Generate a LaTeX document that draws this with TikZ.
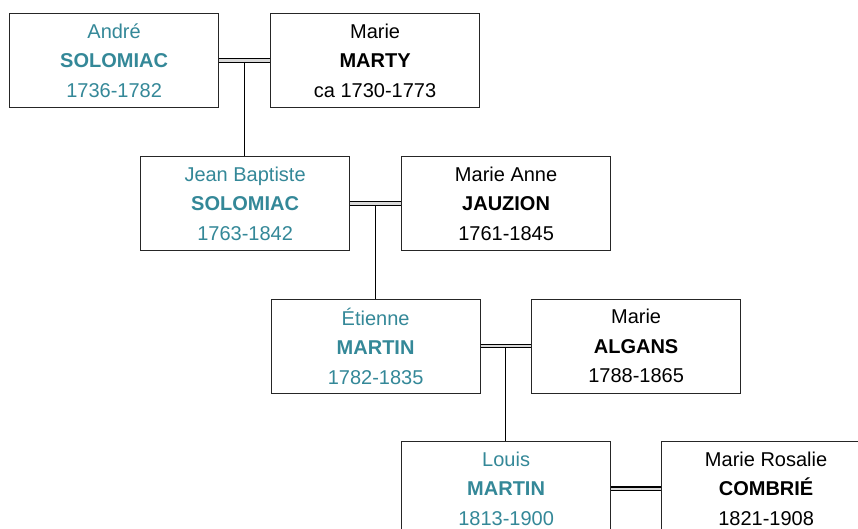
\documentclass[tikz,border=0pt]{standalone}
\usepackage{fontspec}
\setmainfont{Liberation Sans}
\usetikzlibrary{calc}
\definecolor{maleteal}{RGB}{52,136,152}
\begin{document}
\begin{tikzpicture}[x=1pt,y=-1pt,
  person/.style={draw=black!85, line width=1.2pt, fill=white, minimum width=209pt, minimum height=94pt,
    align=center, font=\fontsize{20}{29.5}\selectfont, inner sep=0pt, anchor=north west},
  man/.style={person, text=maleteal},
  woman/.style={person, text=black},
  marriage/.style={draw=black, line width=1.1pt, double=black!15, double distance=2.2pt},
  descent/.style={draw=black, line width=1.2pt}]
\useasboundingbox (0,0) rectangle (858,529);
\clip (0,0) rectangle (858,529);

\node[man]   (h1) at (9,13)    {André\\\textbf{SOLOMIAC}\\1736-1782};
\node[woman] (w1) at (270,13)  {Marie\\\textbf{MARTY}\\ca 1730-1773};
\node[man]   (h2) at (140,156) {Jean Baptiste\\\textbf{SOLOMIAC}\\1763-1842};
\node[woman] (w2) at (401,156) {Marie Anne\\\textbf{JAUZION}\\1761-1845};
\node[man]   (h3) at (270.5,298.5) {Étienne\\\textbf{MARTIN}\\1782-1835};
\node[woman] (w3) at (531,298.5)   {Marie\\\textbf{ALGANS}\\1788-1865};
\node[man]   (h4) at (401,441) {Louis\\\textbf{MARTIN}\\1813-1900};
\node[woman] (w4) at (661,441) {Marie Rosalie\\\textbf{COMBRIÉ}\\1821-1908};

\coordinate (m1) at ($(h1.east)!0.5!(w1.west)$);
\coordinate (m2) at ($(h2.east)!0.5!(w2.west)$);
\coordinate (m3) at ($(h3.east)!0.5!(w3.west)$);

\draw[descent] (m1) -- (m1 |- h2.north);
\draw[descent] (m2) -- (m2 |- h3.north);
\draw[descent] (m3) -- (m3 |- h4.north);

\draw[marriage] (h1.east) -- (w1.west);
\draw[marriage] (h2.east) -- (w2.west);
\draw[marriage] (h3.east) -- (w3.west);
\draw[marriage] (h4.east) -- (w4.west);
\end{tikzpicture}
\end{document}
